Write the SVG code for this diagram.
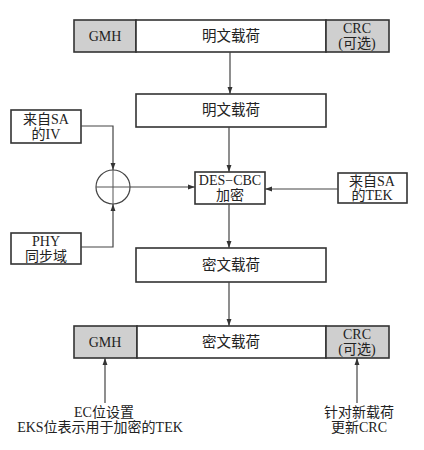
<svg xmlns="http://www.w3.org/2000/svg" width="424" height="450" viewBox="0 0 424 450">
<style>
.box{fill:#fff;stroke:#333;stroke-width:1.6}
.gray{fill:#cfcfcf;stroke:#333;stroke-width:1.6}
.ln{fill:none;stroke:#555;stroke-width:1}
.cn{fill:none;stroke:#444;stroke-width:1.2}
text{font-family:"Liberation Serif","Noto Sans CJK SC",serif;fill:#222;text-anchor:middle}
.t14{font-size:14.5px}
.t13{font-size:14px}
</style>
<defs>
<marker id="ah" viewBox="0 0 10 10" refX="10" refY="5" markerWidth="7" markerHeight="7" markerUnits="userSpaceOnUse" orient="auto">
<path d="M0,1.5 L10,5 L0,8.5 z" fill="#333"/>
</marker>
</defs>
<rect width="424" height="450" fill="#fff"/>
<g id="top-frame">
<rect class="gray" x="74" y="20" width="62" height="32"/>
<rect class="box" x="136" y="20" width="190" height="32"/>
<rect class="gray" x="326" y="20" width="63" height="32"/>
<text class="t13" x="105" y="41">GMH</text>
<text class="t14" x="231" y="41">明文载荷</text>
<text class="t13" x="357" y="33">CRC</text>
<text class="t13" x="357" y="48">(可选)</text>
</g>
<g id="plain">
<rect class="box" x="136" y="94" width="190" height="33"/>
<text class="t14" x="231" y="115">明文载荷</text>
</g>
<g id="iv">
<rect class="box" x="11" y="110" width="70" height="33"/>
<text class="t13" x="46" y="124">来自SA</text>
<text class="t13" x="46" y="139">的IV</text>
</g>
<g id="phy">
<rect class="box" x="11" y="233" width="70" height="31"/>
<text class="t13" x="46" y="246">PHY</text>
<text class="t13" x="46" y="261">同步域</text>
</g>
<g id="xor">
<circle cx="113" cy="187" r="17" fill="none" stroke="#444" stroke-width="1.2"/>
<line class="ln" x1="96" y1="187" x2="130" y2="187"/>
<line class="ln" x1="113" y1="170" x2="113" y2="204"/>
</g>
<g id="des">
<rect class="box" x="195" y="172" width="70" height="32"/>
<text class="t13" x="230" y="185">DES−CBC</text>
<text class="t13" x="230" y="200">加密</text>
</g>
<g id="tek">
<rect class="box" x="338" y="173" width="69" height="30"/>
<text class="t13" x="372" y="186">来自SA</text>
<text class="t13" x="372" y="200">的TEK</text>
</g>
<g id="cipher">
<rect class="box" x="136" y="248" width="190" height="34"/>
<text class="t14" x="231" y="270">密文载荷</text>
</g>
<g id="bottom-frame">
<rect class="gray" x="74" y="326" width="63" height="32"/>
<rect class="box" x="137" y="326" width="189" height="32"/>
<rect class="gray" x="326" y="326" width="63" height="32"/>
<text class="t13" x="105" y="347">GMH</text>
<text class="t14" x="231" y="347">密文载荷</text>
<text class="t13" x="357" y="339">CRC</text>
<text class="t13" x="357" y="354">(可选)</text>
</g>
<g id="connectors">
<line class="cn" x1="230" y1="52" x2="230" y2="94" marker-end="url(#ah)"/>
<line class="cn" x1="229" y1="127" x2="229" y2="172" marker-end="url(#ah)"/>
<line class="cn" x1="229" y1="204" x2="229" y2="248" marker-end="url(#ah)"/>
<line class="cn" x1="229" y1="282" x2="229" y2="326" marker-end="url(#ah)"/>
<polyline class="cn" points="81,126 113,126 113,170" marker-end="url(#ah)"/>
<polyline class="cn" points="81,247 113,247 113,204" marker-end="url(#ah)"/>
<line class="cn" x1="130" y1="187" x2="195" y2="187" marker-end="url(#ah)"/>
<line class="cn" x1="338" y1="189" x2="265" y2="189" marker-end="url(#ah)"/>
<line class="cn" x1="105" y1="403" x2="105" y2="358" marker-end="url(#ah)"/>
<line class="cn" x1="357" y1="403" x2="357" y2="358" marker-end="url(#ah)"/>
</g>
<g id="labels">
<text class="t13" x="104" y="417">EC位设置</text>
<text class="t13" x="100" y="432">EKS位表示用于加密的TEK</text>
<text class="t13" x="359" y="417">针对新载荷</text>
<text class="t13" x="359" y="432">更新CRC</text>
</g>
</svg>
